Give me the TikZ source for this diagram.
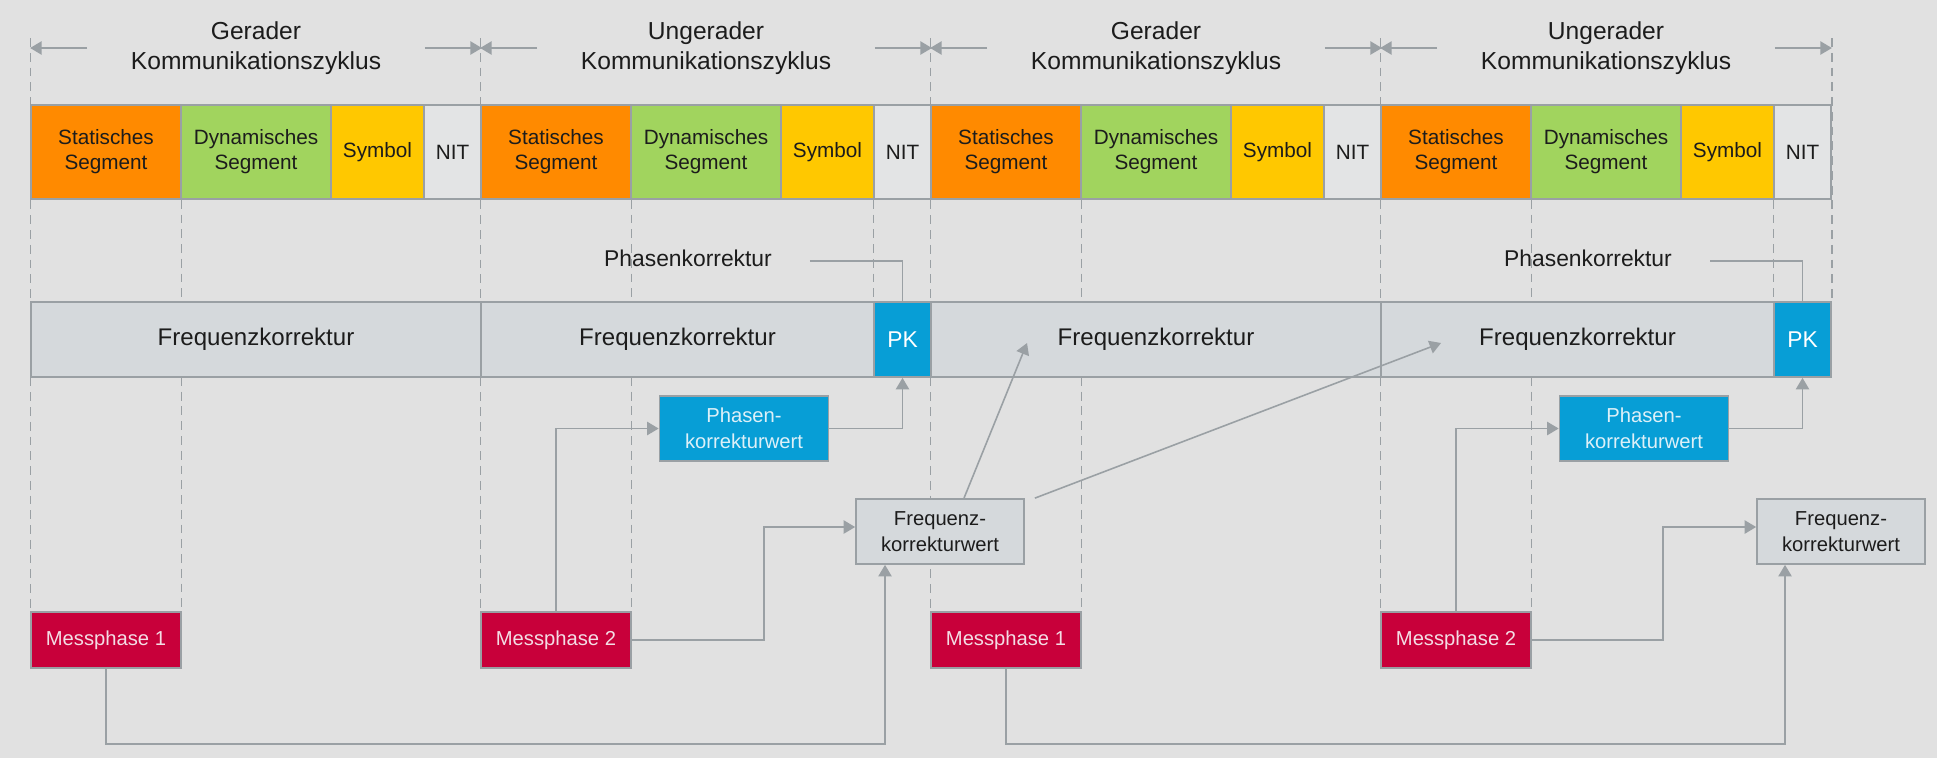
\documentclass[tikz,border=0pt]{standalone}
\usepackage{fontspec}
\setmainfont{Liberation Sans}
\usepackage{xcolor}
\usepackage{tikz}
\usetikzlibrary{positioning,arrows.meta,calc}

\definecolor{bggray}{HTML}{E1E1E1}
\definecolor{linegray}{HTML}{9AA0A4}
\definecolor{txtdark}{HTML}{1C1C1C}
\definecolor{statorange}{HTML}{FF8A00}
\definecolor{dyngreen}{HTML}{A1D45E}
\definecolor{symyellow}{HTML}{FFC800}
\definecolor{nitgray}{HTML}{E3E4E5}
\definecolor{freqgray}{HTML}{D5D9DC}
\definecolor{pkblue}{HTML}{079ED6}
\definecolor{phtext}{HTML}{DDF0F8}
\definecolor{messred}{HTML}{C8003A}
\definecolor{messtext}{HTML}{F3DDE4}

\pgfdeclarelayer{guides}
\pgfsetlayers{guides,main}

\begin{document}
\begin{tikzpicture}[
    x=0.02cm, y=-0.02cm,
    >={Triangle[length=6.5pt,width=7.5pt]},
    seg/.style={rectangle, draw=linegray, line width=1pt, minimum height=1.88cm, inner sep=0pt, align=center, text=txtdark, font=\fontsize{11.8}{14.2}\selectfont},
    stat/.style={seg, fill=statorange, minimum width=3cm},
    dyn/.style={seg, fill=dyngreen, minimum width=3cm},
    sym/.style={seg, fill=symyellow, minimum width=1.86cm},
    nit/.style={seg, fill=nitgray, minimum width=1.14cm},
    cycle/.style={align=center, text=txtdark, font=\fontsize{14}{17}\selectfont},
    fbar/.style={rectangle, draw=linegray, line width=1pt, fill=freqgray, minimum height=1.5cm, inner sep=0pt, text=txtdark, font=\fontsize{13.7}{16}\selectfont},
    pkbox/.style={fbar, fill=pkblue, text=white, minimum width=1.14cm, font=\fontsize{13}{16}\selectfont},
    plabel/.style={text=txtdark, font=\fontsize{13}{16}\selectfont},
    val/.style={rectangle, draw=linegray, line width=1pt, minimum height=1.3cm, inner sep=0pt, align=center, font=\fontsize{11.5}{14.5}\selectfont},
    phval/.style={val, fill=pkblue, text=phtext, minimum width=3.38cm},
    frval/.style={val, fill=freqgray, text=txtdark, minimum width=3.36cm},
    mess/.style={rectangle, draw=linegray, line width=1pt, fill=messred, text=messtext, minimum width=3cm, minimum height=1.12cm, inner sep=0pt, font=\fontsize{11.5}{14}\selectfont},
    guide/.style={draw=linegray, line width=0.7pt, dash pattern=on 5pt off 3.4pt},
    conn/.style={draw=linegray, line width=0.9pt},
    arr/.style={conn, ->}
]
\begin{pgfonlayer}{guides}
\fill[bggray] (0,0) rectangle (1937,758);
\end{pgfonlayer}
\useasboundingbox (0,0) rectangle (1937,758);

% communication cycles
\node[stat] (st1) at (106,152) {Statisches\\Segment};
\node[dyn] (dy1) at (256,152) {Dynamisches\\Segment};
\node[sym] (sy1) at (377.5,152) {Symbol};
\node[nit] (ni1) at (452.5,152) {NIT};
\node[stat] (st2) at (556,152) {Statisches\\Segment};
\node[dyn] (dy2) at (706,152) {Dynamisches\\Segment};
\node[sym] (sy2) at (827.5,152) {Symbol};
\node[nit] (ni2) at (902.5,152) {NIT};
\node[stat] (st3) at (1006,152) {Statisches\\Segment};
\node[dyn] (dy3) at (1156,152) {Dynamisches\\Segment};
\node[sym] (sy3) at (1277.5,152) {Symbol};
\node[nit] (ni3) at (1352.5,152) {NIT};
\node[stat] (st4) at (1456,152) {Statisches\\Segment};
\node[dyn] (dy4) at (1606,152) {Dynamisches\\Segment};
\node[sym] (sy4) at (1727.5,152) {Symbol};
\node[nit] (ni4) at (1802.5,152) {NIT};

\node[cycle] (zy1) at (256,48) {Gerader\\Kommunikationszyklus};
\node[cycle] (zy2) at (706,48) {Ungerader\\Kommunikationszyklus};
\node[cycle] (zy3) at (1156,48) {Gerader\\Kommunikationszyklus};
\node[cycle] (zy4) at (1606,48) {Ungerader\\Kommunikationszyklus};

\draw[arr] ([xshift=-3.38cm]zy1.center) -- (zy1 -| st1.west);
\draw[arr] ([xshift=3.38cm]zy1.center) -- (zy1 -| ni1.east);
\draw[arr] ([xshift=-3.38cm]zy2.center) -- (zy2 -| st2.west);
\draw[arr] ([xshift=3.38cm]zy2.center) -- (zy2 -| ni2.east);
\draw[arr] ([xshift=-3.38cm]zy3.center) -- (zy3 -| st3.west);
\draw[arr] ([xshift=3.38cm]zy3.center) -- (zy3 -| ni3.east);
\draw[arr] ([xshift=-3.38cm]zy4.center) -- (zy4 -| st4.west);
\draw[arr] ([xshift=3.38cm]zy4.center) -- (zy4 -| ni4.east);

% corrections
\node[fbar, minimum width=9cm] (fk1) at (256,339.5) {Frequenzkorrektur};
\node[fbar, minimum width=7.86cm] (fk2) at (677.5,339.5) {Frequenzkorrektur};
\node[pkbox] (pk1) at (902.5,339.5) {PK};
\node[fbar, minimum width=9cm] (fk3) at (1156,339.5) {Frequenzkorrektur};
\node[fbar, minimum width=7.86cm] (fk4) at (1577.5,339.5) {Frequenzkorrektur};
\node[pkbox] (pk2) at (1802.5,339.5) {PK};

\node[plabel] (pl1) at (688,258) {Phasenkorrektur};
\node[plabel] (pl2) at (1588,258) {Phasenkorrektur};
\draw[conn] ([xshift=0.64cm,yshift=-0.06cm]pl1.east) -| (pk1.north);
\draw[conn] ([xshift=0.64cm,yshift=-0.06cm]pl2.east) -| (pk2.north);

\node[phval] (pkw1) at (744,428.5) {Phasen-\\korrekturwert};
\node[phval] (pkw2) at (1644,428.5) {Phasen-\\korrekturwert};
\node[frval] (fkw1) at (940,531.5) {Frequenz-\\korrekturwert};
\node[frval] (fkw2) at (1841,531.5) {Frequenz-\\korrekturwert};

% measurement phases
\node[mess] (mp1) at (106,640) {Messphase 1};
\node[mess] (mp2) at (556,640) {Messphase 2};
\node[mess] (mp3) at (1006,640) {Messphase 1};
\node[mess] (mp4) at (1456,640) {Messphase 2};

\begin{pgfonlayer}{guides}
\draw[guide] ([yshift=1.32cm]st1.north west) -- (mp1.north west);
\draw[guide] (st1.south east) -- (mp1.north east);
\draw[guide] ([yshift=1.32cm]st2.north west) -- (mp2.north west);
\draw[guide] (st2.south east) -- (mp2.north east);
\draw[guide] (ni2.south west) -- (pk1.north west);
\draw[guide] ([yshift=1.32cm]st3.north west) -- (mp3.north west);
\draw[guide] (st3.south east) -- (mp3.north east);
\draw[guide] ([yshift=1.32cm]st4.north west) -- (mp4.north west);
\draw[guide] (st4.south east) -- (mp4.north east);
\draw[guide] (ni4.south west) -- (pk2.north west);
\draw[guide] ([yshift=1.32cm]ni4.north east) -- (pk2.north east);
\end{pgfonlayer}

\draw[arr] (mp2.north) |- (pkw1.west);
\draw[arr] (pkw1.east) -| (pk1.south);
\draw[arr] (mp2.east) -- ++(132,0) |- ([yshift=0.09cm]fkw1.west);
\draw[arr] (mp1.south) -- ++(0,75) -| ([xshift=-1.1cm]fkw1.south);
\draw[arr] ([xshift=0.48cm]fkw1.north) -- ([xshift=-2.58cm,yshift=-0.07cm]fk3.center);
\draw[arr] ([xshift=0.2cm]fkw1.north east) -- ([xshift=-2.73cm,yshift=-0.07cm]fk4.center);

\draw[arr] (mp4.north) |- (pkw2.west);
\draw[arr] (pkw2.east) -| (pk2.south);
\draw[arr] (mp4.east) -- ++(131,0) |- ([yshift=0.09cm]fkw2.west);
\draw[arr] (mp3.south) -- ++(0,75) -| ([xshift=-1.12cm]fkw2.south);
\end{tikzpicture}
\end{document}
